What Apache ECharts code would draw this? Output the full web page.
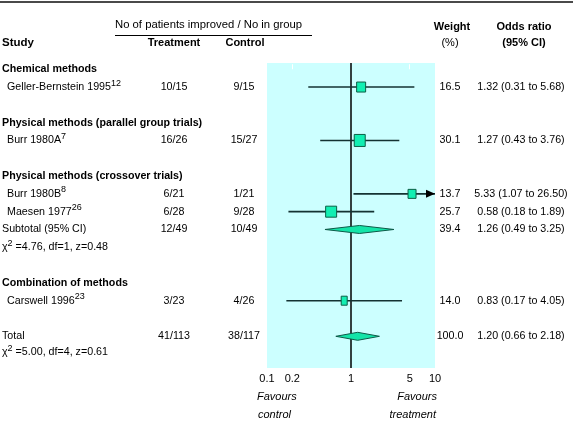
<!DOCTYPE html>
<html><head><meta charset="utf-8">
<script src="https://cdn.jsdelivr.net/npm/echarts@6/dist/echarts.min.js"></script>
<style>html,body{margin:0;padding:0;background:#fff}#c{width:580px;height:424px}</style>
</head><body><div id="c"></div>
<script>
// ---------------- data ----------------
const studyNames = ['Geller-Bernstein 1995', 'Burr 1980A', 'Burr 1980B', 'Maesen 1977', 'Carswell 1996'];
const studyRefs = ['12', '7', '8', '26', '23'];
const treatmentCounts = ['10/15', '16/26', '6/21', '6/28', '3/23'];
const controlCounts = ['9/15', '15/27', '1/21', '9/28', '4/26'];
const studyWeights = ['16.5', '30.1', '13.7', '25.7', '14.0'];
const studyOR = [1.32, 1.27, 5.33, 0.58, 0.83];
const studyLow = [0.31, 0.43, 1.07, 0.18, 0.17];
const studyHigh = [5.68, 3.76, 26.50, 1.89, 4.05];

const groupTitles = ['Chemical methods', 'Physical methods (parallel group trials)',
  'Physical methods (crossover trials)', 'Combination of methods'];

const summaryLabels = ['Subtotal (95% CI)', 'Total'];
const summaryTreatment = ['12/49', '41/113'];
const summaryControl = ['10/49', '38/117'];
const summaryWeights = ['39.4', '100.0'];
const summaryOR = [1.26, 1.20];
const summaryLow = [0.49, 0.66];
const summaryHigh = [3.25, 2.18];
const heterogeneity = [['4.76', '1', '0.48'], ['5.00', '4', '0.61']];

const tickValues = [0.1, 0.2, 1, 5, 10];
const tickLabels = ['0.1', '0.2', '1', '5', '10'];

// ---------------- layout (rows / sizes) ----------------
const studyRow = [1, 4, 7, 8, 13];
const groupRow = [0, 3, 6, 12];
const summaryRow = [9, 15];
const hetRow = [10, 15.9];
const boxSize = [[9, 10], [11, 12], [8, 9], [11, 11], [6, 9]];

const FONT = '"Liberation Sans", Arial, Helvetica, sans-serif';
const FS = 10.7;
const HFS = 11;
const COL = { study: 7, group: 2, treat: 174, ctrl: 244, weight: 450, or: 521 };
const fmtOR = (o, l, h) => o.toFixed(2) + ' (' + l.toFixed(2) + ' to ' + h.toFixed(2) + ')';

// build table text lines
const tableLines = [];
groupTitles.forEach((t, i) => tableLines.push({ row: groupRow[i], cells: [{ text: t, x: COL.group, bold: true }] }));
studyNames.forEach((n, i) => tableLines.push({
  row: studyRow[i], cells: [
    { text: '{m|' + n + '}{s|' + studyRefs[i] + '}', x: COL.study, rich: true },
    { text: treatmentCounts[i], x: COL.treat, align: 'center' },
    { text: controlCounts[i], x: COL.ctrl, align: 'center' },
    { text: studyWeights[i], x: COL.weight, align: 'center' },
    { text: fmtOR(studyOR[i], studyLow[i], studyHigh[i]), x: COL.or, align: 'center' }
  ]
}));
summaryLabels.forEach((n, i) => tableLines.push({
  row: summaryRow[i], cells: [
    { text: n, x: COL.group },
    { text: summaryTreatment[i], x: COL.treat, align: 'center' },
    { text: summaryControl[i], x: COL.ctrl, align: 'center' },
    { text: summaryWeights[i], x: COL.weight, align: 'center' },
    { text: fmtOR(summaryOR[i], summaryLow[i], summaryHigh[i]), x: COL.or, align: 'center' }
  ]
}));
heterogeneity.forEach((h, i) => tableLines.push({
  row: hetRow[i], cells: [
    { text: '{m|\u03c7}{s|2}{m| =' + h[0] + ', df=' + h[1] + ', z=' + h[2] + '}', x: COL.group, rich: true }
  ]
}));

const richStyle = {
  m: { fontSize: FS, fontFamily: FONT, lineHeight: 17, fill: '#000' },
  s: { fontSize: 9, fontFamily: FONT, verticalAlign: 'top', fill: '#000' }
};

const chart = echarts.init(document.getElementById('c'), null, { renderer: 'canvas' });

const LINE_COLOR = '#143232';
const BOX_FILL = '#12eeb2';
const BOX_STROKE = '#0b5e45';

const option = {
  animation: false,
  backgroundColor: '#fff',
  grid: { left: 267, right: 145, top: 63, bottom: 56, show: true, backgroundColor: '#ccffff', borderWidth: 0 },
  xAxis: {
    type: 'log', logBase: 10, min: 0.1, max: 10,
    axisLine: { show: false },
    splitLine: { show: false },
    minorTick: { show: false },
    axisTick: { show: true, inside: true, length: 5, lineStyle: { color: '#ffffff', width: 1 }, customValues: [0.2, 5] },
    axisLabel: {
      customValues: tickValues, margin: 5, fontSize: HFS, fontFamily: FONT, color: '#000',
      formatter: v => {
        const k = tickValues.findIndex(t => Math.abs(Math.log10(t) - Math.log10(v)) < 1e-6);
        return k >= 0 ? tickLabels[k] : '';
      }
    }
  },
  yAxis: { type: 'value', inverse: true, min: -0.35, max: 16.78, show: false },
  series: [
    {
      type: 'scatter', data: [[1, 0]], symbolSize: 0, z: 2, silent: true,
      markLine: {
        silent: true, symbol: ['none', 'none'], label: { show: false },
        lineStyle: { color: '#000', width: 1.5, type: 'solid' },
        data: [{ xAxis: 1 }]
      }
    },
    {
      type: 'custom', z: 5, silent: true,
      data: studyOR.map((v, i) => [v, studyLow[i], studyHigh[i], studyRow[i]]),
      encode: { x: [0, 1, 2], y: 3 },
      renderItem: (params, api) => {
        const i = params.dataIndex;
        const r = api.value(3);
        const c = api.coord([api.value(0), r]);
        const lo = api.value(1), hi = api.value(2);
        const xl = api.coord([Math.max(lo, 0.1), r])[0];
        const xh = api.coord([Math.min(hi, 10), r])[0];
        const ch = [];
        ch.push({ type: 'line', shape: { x1: xl, y1: c[1], x2: xh, y2: c[1] }, style: { stroke: LINE_COLOR, lineWidth: 1.6 } });
        if (hi > 10) {
          ch.push({ type: 'polygon', shape: { points: [[xh, c[1]], [xh - 9, c[1] - 4], [xh - 9, c[1] + 4]] }, style: { fill: '#000' } });
        }
        const [w, h] = boxSize[i];
        ch.push({ type: 'rect', shape: { x: c[0] - w / 2, y: c[1] - h / 2, width: w, height: h }, style: { fill: BOX_FILL, stroke: BOX_STROKE, lineWidth: 1 } });
        return { type: 'group', children: ch };
      }
    },
    {
      type: 'custom', z: 5, silent: true,
      data: summaryOR.map((v, i) => [v, summaryLow[i], summaryHigh[i], summaryRow[i]]),
      encode: { x: [0, 1, 2], y: 3 },
      renderItem: (params, api) => {
        const r = api.value(3);
        const c = api.coord([api.value(0), r]);
        const xl = api.coord([api.value(1), r])[0];
        const xh = api.coord([api.value(2), r])[0];
        const hh = 4;
        return {
          type: 'polygon',
          shape: { points: [[xl, c[1]], [c[0], c[1] - hh], [xh, c[1]], [c[0], c[1] + hh]] },
          style: { fill: '#14e4a8', stroke: '#0d5a48', lineWidth: 1 }
        };
      }
    },
    {
      type: 'custom', z: 6, silent: true, clip: false,
      data: tableLines.map(l => [1, l.row]),
      encode: { x: 0, y: 1 },
      renderItem: (params, api) => {
        const line = tableLines[params.dataIndex];
        const y = api.coord([1, api.value(1)])[1];
        return {
          type: 'group',
          children: line.cells.map(cell => ({
            type: 'text',
            style: cell.rich ? {
              text: cell.text, x: cell.x, y: y, align: cell.align || 'left', verticalAlign: 'middle', rich: richStyle,
              fontSize: FS, fontFamily: FONT, fill: '#000'
            } : {
              text: cell.text, x: cell.x, y: y, align: cell.align || 'left', verticalAlign: 'middle',
              fontSize: FS, fontFamily: FONT, fontWeight: cell.bold ? 'bold' : 'normal', fill: '#000'
            }
          }))
        };
      }
    }
  ],
  graphic: [
    { type: 'line', shape: { x1: 0, y1: 2, x2: 573, y2: 2 }, style: { stroke: '#4a4a4a', lineWidth: 2 } },
    { type: 'text', style: { text: 'No of patients improved / No in group', x: 115, y: 25, verticalAlign: 'middle', fontSize: 11.3, fontFamily: FONT, fill: '#000' } },
    { type: 'line', shape: { x1: 115, y1: 35.5, x2: 312, y2: 35.5 }, style: { stroke: '#000', lineWidth: 1 } },
    { type: 'text', style: { text: 'Study', x: 2, y: 43, verticalAlign: 'middle', fontSize: 11.5, fontWeight: 'bold', fontFamily: FONT, fill: '#000' } },
    { type: 'text', style: { text: 'Treatment', x: 174, y: 43, align: 'center', verticalAlign: 'middle', fontSize: HFS, fontWeight: 'bold', fontFamily: FONT, fill: '#000' } },
    { type: 'text', style: { text: 'Control', x: 245, y: 43, align: 'center', verticalAlign: 'middle', fontSize: HFS, fontWeight: 'bold', fontFamily: FONT, fill: '#000' } },
    { type: 'text', style: { text: 'Weight', x: 452, y: 27, align: 'center', verticalAlign: 'middle', fontSize: HFS, fontWeight: 'bold', fontFamily: FONT, fill: '#000' } },
    { type: 'text', style: { text: '(%)', x: 450, y: 43, align: 'center', verticalAlign: 'middle', fontSize: HFS, fontFamily: FONT, fill: '#000' } },
    { type: 'text', style: { text: 'Odds ratio', x: 524, y: 27, align: 'center', verticalAlign: 'middle', fontSize: HFS, fontWeight: 'bold', fontFamily: FONT, fill: '#000' } },
    { type: 'text', style: { text: '(95% CI)', x: 524, y: 43, align: 'center', verticalAlign: 'middle', fontSize: HFS, fontWeight: 'bold', fontFamily: FONT, fill: '#000' } },
    { type: 'text', style: { text: 'Favours', x: 257, y: 397, verticalAlign: 'middle', fontSize: HFS, fontStyle: 'italic', fontFamily: FONT, fill: '#000' } },
    { type: 'text', style: { text: 'control', x: 258, y: 415, verticalAlign: 'middle', fontSize: HFS, fontStyle: 'italic', fontFamily: FONT, fill: '#000' } },
    { type: 'text', style: { text: 'Favours', x: 437, y: 397, align: 'right', verticalAlign: 'middle', fontSize: HFS, fontStyle: 'italic', fontFamily: FONT, fill: '#000' } },
    { type: 'text', style: { text: 'treatment', x: 436, y: 415, align: 'right', verticalAlign: 'middle', fontSize: HFS, fontStyle: 'italic', fontFamily: FONT, fill: '#000' } }
  ]
};
chart.setOption(option);
</script>
</body></html>
